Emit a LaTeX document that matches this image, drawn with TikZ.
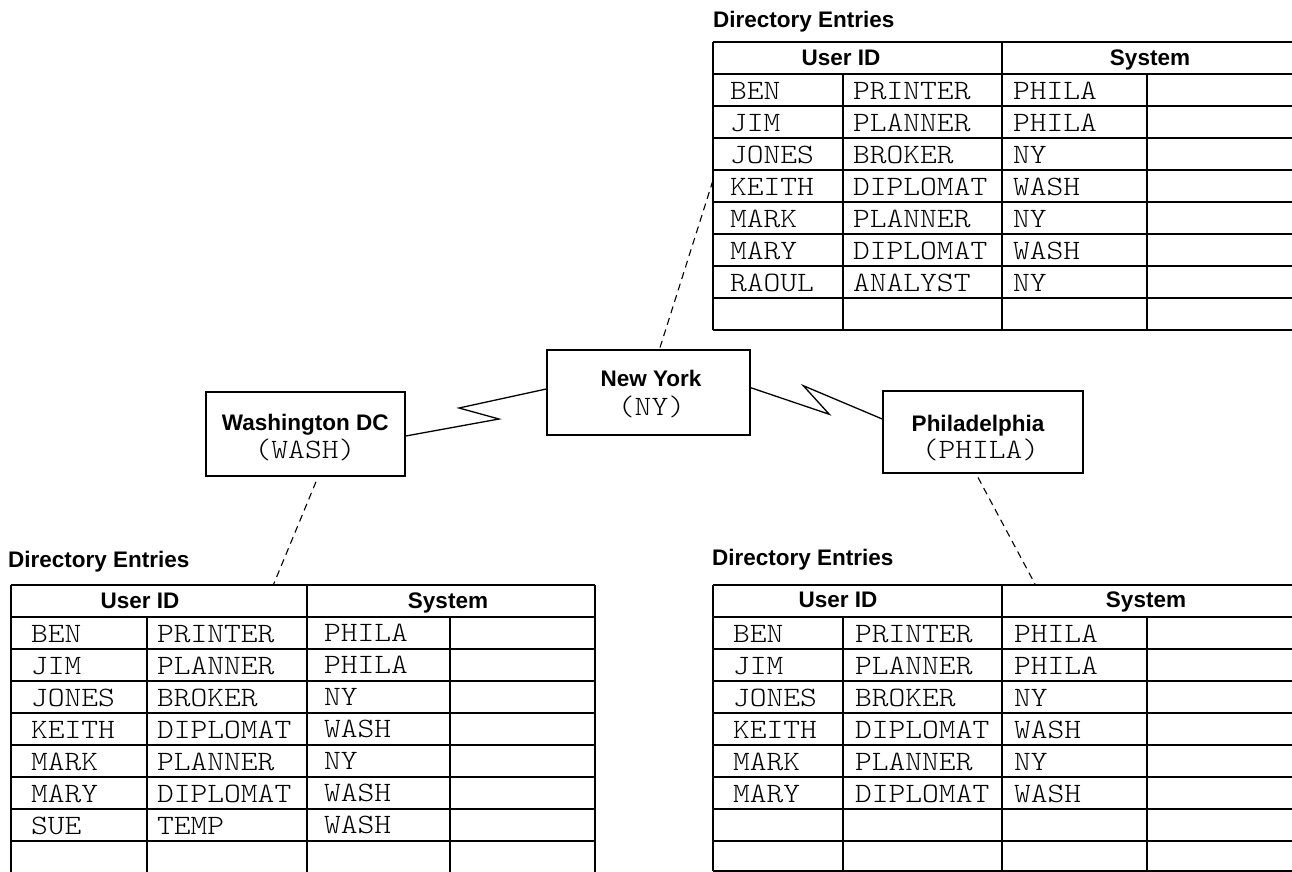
\documentclass[tikz,border=0pt]{standalone}
\usepackage{fontspec}
\setmainfont{Liberation Sans}
\newfontfamily\typewr[FakeStretch=1.14]{lmmonolt10-regular.otf}
\usetikzlibrary{calc}

\tikzset{
  rule/.style={line width=1.5bp},
  boxframe/.style={draw, rectangle, line width=1.5bp, inner sep=0pt},
  link/.style={line width=1.3bp, line join=miter},
  dirlink/.style={line width=1.1bp, dash pattern=on 7bp off 5bp},
  ttcell/.style={anchor=base west, inner sep=0pt, font=\typewr\fontsize{28bp}{32bp}\selectfont},
  head/.style={anchor=base, inner sep=0pt, font=\bfseries\fontsize{22.5bp}{26bp}\selectfont},
  tabletitle/.style={anchor=base west, inner sep=0pt, font=\bfseries\fontsize{22.5bp}{26bp}\selectfont},
  sitename/.style={anchor=base, inner sep=0pt, font=\bfseries\fontsize{22.5bp}{26bp}\selectfont},
  sitecode/.style={anchor=base, inner sep=0pt, font=\typewr\fontsize{28bp}{32bp}\selectfont},
}

\begin{document}
\begin{tikzpicture}[x=1bp,y=-1bp]
\useasboundingbox (0,0) rectangle (1292,872);
\clip (0,0) rectangle (1292,872);

% ---------- sites ----------
\node[boxframe, minimum width=203bp, minimum height=85bp] (ny) at (648.5,392.5) {};
\node[sitename] (nyname) at (651,386.7) {New York};
\node[sitecode] (nycode) at (651.5,415) {(NY)};

\node[boxframe, minimum width=199bp, minimum height=84bp] (wash) at (305.5,434) {};
\node[sitename] (washname) at (305.3,430) {Washington DC};
\node[sitecode] (washcode) at (305,458) {(WASH)};

\node[boxframe, minimum width=200bp, minimum height=82bp] (phila) at (983,432) {};
\node[sitename] (philaname) at (978,431) {Philadelphia};
\node[sitecode] (philacode) at (980.5,458.3) {(PHILA)};

% ---------- communication links ----------
\draw[link] ([yshift=-2bp]wash.east) -- (499,419) -- (459,408) -- ([yshift=3.5bp]ny.west);
\draw[link] ([yshift=4.8bp]ny.east) -- (829.3,414.3) -- (803.3,385.7) -- ([yshift=13bp]phila.west);

% ---------- New York directory ----------
\node[tabletitle] (nytitle) at (713,27) {Directory Entries};
\draw[rule] (713,42) -- (1300,42);
\foreach \y in {74,106,...,330} \draw[rule] (713,\y) -- (1300,\y);
\draw[rule] (713,42) -- (713,330);
\draw[rule] (1002,42) -- (1002,330);
\draw[rule] (843,74) -- (843,330);
\draw[rule] (1147,74) -- (1147,330);
\node[head] (nyuser) at (841,65) {User ID};
\node[head] (nysys) at (1150,65) {System};
\foreach \a/\b/\c [count=\i from 0] in {BEN/PRINTER/PHILA, JIM/PLANNER/PHILA,
    JONES/BROKER/NY, KEITH/DIPLOMAT/WASH, MARK/PLANNER/NY,
    MARY/DIPLOMAT/WASH, RAOUL/ANALYST/NY} {
  \node[ttcell] (ny-\i-a) at (730,{99+32*\i}) {\a};
  \node[ttcell] (ny-\i-b) at (853,{99+32*\i}) {\b};
  \node[ttcell] (ny-\i-c) at (1013,{99+32*\i}) {\c};
}
\coordinate (nyhook) at (713.3,179.3);
\draw[dirlink] ([xshift=11.5bp,yshift=1.7bp]ny.north) -- (nyhook);

% ---------- Washington directory ----------
\node[tabletitle] (washtitle) at (8,567) {Directory Entries};
\foreach \y in {585,617,...,841} \draw[rule] (11,\y) -- (595,\y);
\foreach \x in {11,307,595} \draw[rule] (\x,585) -- (\x,880);
\foreach \x in {147,450} \draw[rule] (\x,617) -- (\x,880);
\node[head] (washuser) at (140,608) {User ID};
\node[head] (washsys) at (448,608) {System};
\foreach \a/\b/\c [count=\i from 0] in {BEN/PRINTER/PHILA, JIM/PLANNER/PHILA,
    JONES/BROKER/NY, KEITH/DIPLOMAT/WASH, MARK/PLANNER/NY,
    MARY/DIPLOMAT/WASH, SUE/TEMP/WASH} {
  \node[ttcell] (wash-\i-a) at (31,{642+32*\i}) {\a};
  \node[ttcell] (wash-\i-b) at (157,{642+32*\i}) {\b};
  \node[ttcell] (wash-\i-c) at (324,{641+32*\i}) {\c};
}
\coordinate (washhook) at (273.3,585);
\draw[dirlink] ([xshift=10.5bp,yshift=-5bp]wash.south) -- (washhook);

% ---------- Philadelphia directory ----------
\node[tabletitle] (philatitle) at (712,565) {Directory Entries};
\foreach \y in {585,617,...,841,871} \draw[rule] (713,\y) -- (1300,\y);
\foreach \x in {713,1002} \draw[rule] (\x,585) -- (\x,871);
\foreach \x in {843,1147} \draw[rule] (\x,617) -- (\x,871);
\node[head] (philauser) at (838,607) {User ID};
\node[head] (philasys) at (1146,607) {System};
\foreach \a/\b/\c [count=\i from 0] in {BEN/PRINTER/PHILA, JIM/PLANNER/PHILA,
    JONES/BROKER/NY, KEITH/DIPLOMAT/WASH, MARK/PLANNER/NY,
    MARY/DIPLOMAT/WASH} {
  \node[ttcell] (phila-\i-a) at (733,{642+32*\i}) {\a};
  \node[ttcell] (phila-\i-b) at (855,{642+32*\i}) {\b};
  \node[ttcell] (phila-\i-c) at (1014,{642+32*\i}) {\c};
}
\coordinate (philahook) at (1035,584);
\draw[dirlink] ([xshift=-5bp,yshift=-3.7bp]phila.south) -- (philahook);
\end{tikzpicture}
\end{document}
